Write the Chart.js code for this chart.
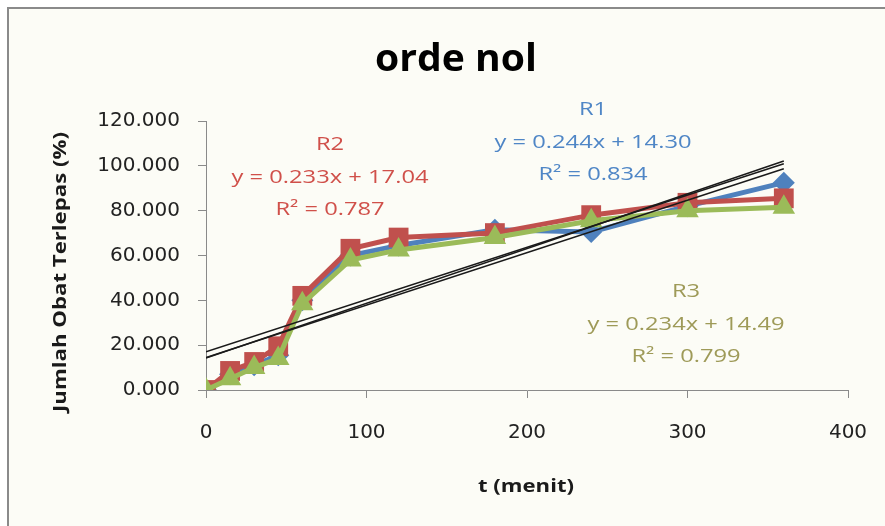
<!DOCTYPE html>
<html>
<head>
<meta charset="utf-8">
<script src="https://cdn.jsdelivr.net/npm/chart.js@4/dist/chart.umd.min.js"></script>
<style>
  html, body { margin: 0; padding: 0; background: #ffffff; overflow: hidden; }
  canvas { display: block; }
</style>
</head>
<body>
<canvas id="chart" width="885" height="526"></canvas>
<script>
// Sampling times (menit)
const times = [0, 15, 30, 45, 60, 90, 120, 180, 240, 300, 360];

// Cumulative release (%) per replicate
const r1Values = [0, 7, 11, 15.5, 40, 60, 64.5, 71.5, 70.5, 82, 92.5];
const r2Values = [0, 8.5, 12.5, 19.5, 42, 63, 68, 70, 78, 83.5, 85.5];
const r3Values = [0, 5, 10, 14, 38.5, 58, 62.5, 68, 75.5, 80, 81.5];

// Zero-order linear fits per replicate
const seriesNames = ['R1', 'R2', 'R3'];
const slopes = [0.244, 0.233, 0.234];
const intercepts = [14.30, 17.04, 14.49];
const rSquared = [0.834, 0.787, 0.799];

// Axis ticks
const xTickValues = [0, 100, 200, 300, 400];
const yTickValues = [0, 20, 40, 60, 80, 100, 120];

const chartTitle = 'orde nol';
const xTitle = 't (menit)';
const yTitle = 'Jumlah Obat Terlepas (%)';

const seriesColors = ['#4F81BD', '#C0504D', '#9BBB59'];
const labelColors = ['#4F86C6', '#D0504A', '#9E9A58'];
const markerStyles = ['rectRot', 'rect', 'triangle'];
const markerRadius = [11, 14, 13];
const drawOrder = [3, 2, 1];

const seriesValues = [r1Values, r2Values, r3Values];

const datasets = [];
seriesValues.forEach((vals, i) => {
  datasets.push({
    label: seriesNames[i],
    data: times.map((t, k) => ({ x: t, y: vals[k] })),
    showLine: true,
    borderColor: seriesColors[i],
    backgroundColor: seriesColors[i],
    borderWidth: 5,
    pointStyle: markerStyles[i],
    pointRadius: markerRadius[i],
    pointBorderWidth: 0,
    pointBackgroundColor: seriesColors[i],
    order: drawOrder[i]
  });
});

// Trend lines from the fitted equations, spanning the sampled time range
const tStart = times[0];
const tEnd = times[times.length - 1];
slopes.forEach((m, i) => {
  datasets.push({
    label: seriesNames[i] + ' linear',
    data: [
      { x: tStart, y: m * tStart + intercepts[i] },
      { x: tEnd, y: m * tEnd + intercepts[i] }
    ],
    showLine: true,
    borderColor: '#1a1a1a',
    borderWidth: 1.5,
    pointRadius: 0,
    order: 0
  });
});

// Draw a line of text horizontally scaled to a target width
function fitText(ctx, text, cx, cy, font, color, targetWidth, rotate) {
  ctx.save();
  ctx.font = font;
  ctx.fillStyle = color;
  ctx.textAlign = 'center';
  ctx.textBaseline = 'middle';
  const w = ctx.measureText(text).width;
  const sx = targetWidth ? targetWidth / w : 1;
  ctx.translate(cx, cy);
  if (rotate) ctx.rotate(rotate);
  ctx.scale(sx, 1);
  ctx.fillText(text, 0, 0);
  ctx.restore();
  return sx;
}

const frame = {
  id: 'frame',
  beforeDraw(chart) {
    const ctx = chart.ctx;
    ctx.save();
    ctx.fillStyle = '#ffffff';
    ctx.fillRect(0, 0, chart.width, chart.height);
    ctx.fillStyle = '#fcfcf6';
    ctx.fillRect(8, 8, chart.width - 8, chart.height - 8);
    ctx.strokeStyle = '#8a8a8a';
    ctx.lineWidth = 2;
    ctx.beginPath();
    ctx.moveTo(8, chart.height);
    ctx.lineTo(8, 8);
    ctx.lineTo(chart.width, 8);
    ctx.stroke();
    ctx.restore();
  }
};

const texts = {
  id: 'texts',
  afterDraw(chart) {
    const ctx = chart.ctx;
    fitText(ctx, chartTitle, 456, 60, 'bold 37px "Open Sans"', '#000000', 162);
    fitText(ctx, xTitle, 526, 487, 'bold 18px "Open Sans"', '#1a1a1a', 96);
    fitText(ctx, yTitle, 61, 272, 'bold 18px "Open Sans"', '#1a1a1a', 280, -Math.PI / 2);

    // Fit labels: name, equation, coefficient of determination
    const spots = [[593, 110], [330, 145], [686, 292]];
    const eqWidth = 197;
    seriesNames.forEach((name, i) => {
      const [cx, cy] = spots[i];
      const font = '18px "Open Sans"';
      const eq = 'y = ' + slopes[i].toFixed(3) + 'x + ' + intercepts[i].toFixed(2);
      ctx.save();
      ctx.font = font;
      const sx = eqWidth / ctx.measureText(eq).width;
      const rw = ctx.measureText(name).width * sx;
      const r2 = 'R\u00B2 = ' + rSquared[i].toFixed(3);
      const r2w = ctx.measureText(r2).width * sx;
      ctx.restore();
      fitText(ctx, name, cx, cy, font, labelColors[i], rw);
      fitText(ctx, eq, cx, cy + 32.5, font, labelColors[i], eqWidth);
      fitText(ctx, r2, cx, cy + 65, font, labelColors[i], r2w);
    });
  }
};

new Chart(document.getElementById('chart'), {
  type: 'scatter',
  data: { datasets },
  options: {
    responsive: false,
    devicePixelRatio: 1,
    animation: false,
    layout: { padding: { top: 121, right: 37, left: 0, bottom: 0 } },
    plugins: {
      legend: { display: false },
      tooltip: { enabled: false },
      title: { display: false }
    },
    scales: {
      x: {
        type: 'linear',
        min: xTickValues[0],
        max: xTickValues[xTickValues.length - 1],
        afterBuildTicks: s => { s.ticks = xTickValues.map(v => ({ value: v })); },
        afterFit: s => { s.height = 136; s.paddingRight = 0; },
        ticks: {
          padding: 23,
          color: '#222222',
          font: { family: 'DejaVu Sans', size: 20 },
          callback: v => String(v)
        },
        grid: { drawOnChartArea: false, drawTicks: true, tickLength: 8, color: '#8a8a8a' },
        border: { display: true, color: '#8a8a8a', width: 1 }
      },
      y: {
        type: 'linear',
        min: yTickValues[0],
        max: yTickValues[yTickValues.length - 1],
        afterBuildTicks: s => { s.ticks = yTickValues.map(v => ({ value: v })); },
        afterFit: s => { s.width = 206; },
        ticks: {
          padding: 18,
          color: '#222222',
          font: { family: 'DejaVu Sans', size: 20 },
          callback: v => Number(v).toFixed(3)
        },
        grid: { drawOnChartArea: false, drawTicks: true, tickLength: 8, color: '#8a8a8a' },
        border: { display: true, color: '#8a8a8a', width: 1 }
      }
    }
  },
  plugins: [frame, texts]
});
</script>
</body>
</html>
